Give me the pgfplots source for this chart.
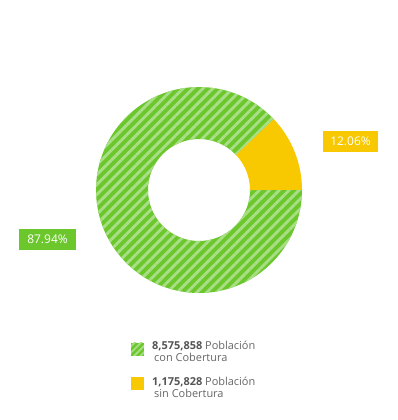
\documentclass[border=0pt]{standalone}
\usepackage{pgfplots}
\pgfplotsset{compat=1.18}
\usepackage{pgfplotstable}
\usepackage{fontspec}
\setmainfont{Open Sans}
\usetikzlibrary{patterns.meta}
\definecolor{cgreen}{HTML}{6CC72C}
\definecolor{clight}{HTML}{A8DE86}
\definecolor{cyellow}{HTML}{F8C900}
\definecolor{ctext}{HTML}{666666}
\definecolor{cnum}{HTML}{555555}

\pgfplotstableread{
label value
con 8575858
sin 1175828
}\datatable

\begin{document}
\begin{tikzpicture}[x=1bp,y=1bp]
\pgfplotstablegetelem{0}{value}\of\datatable \edef\vcon{\pgfplotsretval}
\pgfplotstablegetelem{1}{value}\of\datatable \edef\vsin{\pgfplotsretval}
\begingroup
\pgfkeys{/pgf/fpu=true,/pgf/fpu/output format=fixed}
\pgfmathparse{360*\vsin/(\vcon+\vsin)}\xdef\asin{\pgfmathresult}
\endgroup
\path[use as bounding box] (0,0) rectangle (398,420);
\begin{axis}[anchor=origin, at={(0,0)}, x=1bp, y=1bp,
  xmin=0, xmax=398, ymin=0, ymax=420, hide axis, clip=false]
% green slice
\fill[cgreen] (axis cs:{199+103*cos(\asin)},{230+103*sin(\asin)})
  arc[start angle=\asin, end angle=360, radius=103bp]
  -- (axis cs:250,230)
  arc[start angle=360, end angle=\asin, radius=51bp] -- cycle;
\fill[pattern={Lines[angle=45,distance=7bp,line width=2.9bp]}, pattern color=clight]
  (axis cs:{199+103*cos(\asin)},{230+103*sin(\asin)})
  arc[start angle=\asin, end angle=360, radius=103bp]
  -- (axis cs:250,230)
  arc[start angle=360, end angle=\asin, radius=51bp] -- cycle;
% yellow slice
\fill[cyellow] (axis cs:302,230)
  arc[start angle=0, end angle=\asin, radius=103bp]
  -- (axis cs:{199+51*cos(\asin)},{230+51*sin(\asin)})
  arc[start angle=\asin, end angle=0, radius=51bp] -- cycle;
% labels
\node[fill=cgreen, text=white, minimum width=57bp, minimum height=21bp, inner sep=0,
  font=\fontsize{12}{14}\selectfont] at (axis cs:47.5,180.5) {87.94\%};
\node[fill=cyellow, text=white, minimum width=55bp, minimum height=21bp, inner sep=0,
  font=\fontsize{12}{14}\selectfont] at (axis cs:350.5,278.5) {12.06\%};
% legend
\fill[cgreen] (axis cs:131,64) rectangle (axis cs:144,77);
\fill[pattern={Lines[angle=45,distance=4.5bp,line width=1.8bp]}, pattern color=clight]
  (axis cs:131,64) rectangle (axis cs:144,77);
\fill[cyellow] (axis cs:131,30) rectangle (axis cs:144,43);
\node[anchor=west, align=left, inner sep=0, text=ctext,
  font=\fontsize{11}{12}\selectfont] at (axis cs:152,69)
  {{\bfseries\color{cnum}8,575,858} Población\\\hspace*{2bp}con Cobertura};
\node[anchor=west, align=left, inner sep=0, text=ctext,
  font=\fontsize{11}{12}\selectfont] at (axis cs:152,33)
  {{\bfseries\color{cnum}1,175,828} Población\\\hspace*{2bp}sin Cobertura};
\end{axis}
\end{tikzpicture}
\end{document}
